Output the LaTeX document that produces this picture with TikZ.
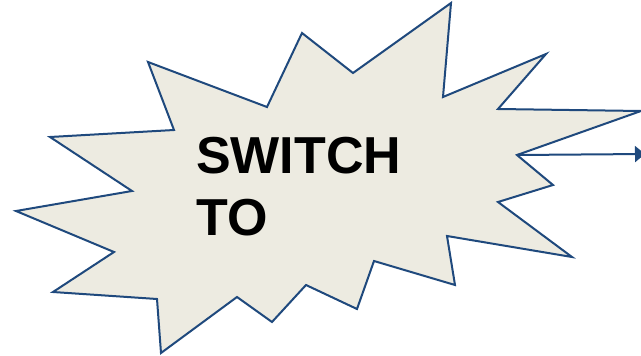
\documentclass[tikz,border=0pt]{standalone}
\usepackage{fontspec}
\setmainfont{Liberation Sans}
\usetikzlibrary{arrows.meta}
\definecolor{starfill}{RGB}{237,235,225}
\definecolor{starline}{RGB}{31,73,125}
\tikzset{
  burst/.style={fill=starfill, draw=starline, line width=2pt, line join=miter},
  burstlabel/.style={font=\fontsize{52}{62}\selectfont\bfseries, text=black, inner sep=0pt, anchor=base west},
  outarrow/.style={draw=starline, line width=2pt, -{Triangle[length=10pt,width=16pt]}}
}
\begin{document}
\begin{tikzpicture}[x=1pt,y=-1pt]
\useasboundingbox (0,0) rectangle (641,356);
\clip (0,0) rectangle (641,356);
\draw[burst] (148,62) -- (267,107) -- (302,33) -- (353,73) -- (451,3) -- (443,97)
  -- (546,54) -- (498,109) -- (641,111) -- (517,155) -- (553,185) -- (498,202)
  -- (572,257) -- (447,236) -- (455,285) -- (374,261) -- (357,309) -- (306,285)
  -- (272,322) -- (237,297) -- (161,353) -- (157,299) -- (53,292) -- (114,252)
  -- (16,211) -- (132,191) -- (50,137) -- (174,130) -- cycle;
\coordinate (notch) at (517,155);
\coordinate (out) at (645,154);
\draw[outarrow] (notch) -- (out);
\node[burstlabel] (sw) at (196,173) {SWITCH};
\node[burstlabel] (to) at (196,235) {TO};
\end{tikzpicture}
\end{document}
